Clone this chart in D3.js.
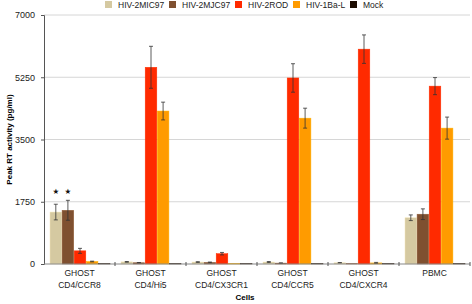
<!DOCTYPE html>
<html>
<head>
<meta charset="utf-8">
<script src="https://cdn.jsdelivr.net/npm/d3@7"></script>
<style>
  body { margin: 0; background: #fff; }
  text { font-family: "Liberation Sans", Arial, sans-serif; }
</style>
</head>
<body>
<div id="chart"></div>
<script>
const cells = ["GHOST\nCD4/CCR8", "GHOST\nCD4/Hi5", "GHOST\nCD4/CX3CR1", "GHOST\nCD4/CCR5", "GHOST\nCD4/CXCR4", "PBMC"];
const viruses = ["HIV-2MIC97", "HIV-2MJC97", "HIV-2ROD", "HIV-1Ba-L", "Mock"];
const colors = ["#d5c9a1", "#7f5030", "#ff2a00", "#ff9b00", "#1c0c00"];
const yTicks = [0, 1750, 3500, 5250, 7000];

// values per cell, in virus order
const means = [
  [1460, 1510, 370, 70, 10],
  [60, 35, 5530, 4300, 10],
  [55, 45, 290, 15, 10],
  [55, 25, 5230, 4100, 10],
  [35, 10, 6040, 30, 10],
  [1300, 1400, 5000, 3820, 10]
];
const errors = [
  [220, 280, 70, 10, 0],
  [10, 5, 590, 250, 0],
  [10, 10, 35, 0, 0],
  [15, 5, 400, 280, 0],
  [5, 0, 400, 15, 0],
  [80, 150, 240, 310, 0]
];
const starred = [[0, 0], [0, 1]];

const width = 472, height = 304;
const margin = {top: 15, right: 2, bottom: 40, left: 44};

const svg = d3.select("#chart").append("svg")
  .attr("width", width)
  .attr("height", height);

const x0 = d3.scaleBand()
  .domain(d3.range(cells.length))
  .range([margin.left, width - margin.right]);
const x1 = d3.scaleBand()
  .domain(d3.range(viruses.length))
  .range([6, x0.bandwidth() - 5])
  .paddingInner(0.04);
const y = d3.scaleLinear()
  .domain([0, 7000])
  .range([height - margin.bottom, margin.top]);

// gridlines
svg.append("g")
  .selectAll("line")
  .data(yTicks.slice(1))
  .join("line")
  .attr("x1", margin.left)
  .attr("x2", width - margin.right)
  .attr("y1", d => y(d))
  .attr("y2", d => y(d))
  .attr("stroke", "#d6d6d6")
  .attr("stroke-width", 1);

// y axis
const yAxis = svg.append("g")
  .attr("transform", `translate(${margin.left},0)`)
  .call(d3.axisLeft(y).tickValues(yTicks).tickSize(3).tickFormat(d3.format("d")));
yAxis.select(".domain").attr("stroke", "#555");
yAxis.selectAll(".tick line").attr("stroke", "#555");
yAxis.selectAll(".tick text")
  .attr("x", -9)
  .style("font-size", "9px")
  .style("font-family", "Liberation Sans, Arial, sans-serif")
  .attr("fill", "#222");

// bars
const group = svg.append("g")
  .selectAll("g")
  .data(means)
  .join("g")
  .attr("transform", (d, i) => `translate(${x0(i)},0)`);

group.selectAll("rect")
  .data((d, i) => d.map((v, j) => ({v, j, e: errors[i][j]})))
  .join("rect")
  .attr("x", d => x1(d.j))
  .attr("width", x1.bandwidth())
  .attr("y", d => y(d.v))
  .attr("height", d => y(0) - y(d.v))
  .attr("fill", d => colors[d.j])
  .attr("stroke", d => d3.color(colors[d.j]).brighter(0.4))
  .attr("stroke-width", 0.5);

// error bars
const eb = group.selectAll("g.err")
  .data((d, i) => d.map((v, j) => ({v, j, e: errors[i][j]})).filter(d => d.e > 0))
  .join("g")
  .attr("class", "err")
  .attr("stroke", "#333")
  .attr("stroke-width", 0.8);
eb.append("line")
  .attr("x1", d => x1(d.j) + x1.bandwidth() / 2)
  .attr("x2", d => x1(d.j) + x1.bandwidth() / 2)
  .attr("y1", d => y(d.v - d.e))
  .attr("y2", d => y(d.v + d.e));
eb.append("line")
  .attr("x1", d => x1(d.j) + x1.bandwidth() / 2 - 2)
  .attr("x2", d => x1(d.j) + x1.bandwidth() / 2 + 2)
  .attr("y1", d => y(d.v + d.e))
  .attr("y2", d => y(d.v + d.e));
eb.append("line")
  .attr("x1", d => x1(d.j) + x1.bandwidth() / 2 - 2)
  .attr("x2", d => x1(d.j) + x1.bandwidth() / 2 + 2)
  .attr("y1", d => y(d.v - d.e))
  .attr("y2", d => y(d.v - d.e));

// stars, all at one height above the tallest error bar of the group
const starTop = i => d3.max(means[i], (v, j) => v + errors[i][j]);
svg.append("g")
  .selectAll("text")
  .data(starred)
  .join("text")
  .attr("x", ([i, j]) => x0(i) + x1(j) + x1.bandwidth() / 2)
  .attr("y", ([i]) => y(starTop(i)) - 6)
  .attr("text-anchor", "middle")
  .style("font-family", "DejaVu Sans, sans-serif")
  .style("font-size", "7.5px")
  .attr("fill", "#111")
  .text("★");

// x axis
const base = y(0);
svg.append("line")
  .attr("x1", margin.left)
  .attr("x2", width - margin.right)
  .attr("y1", base)
  .attr("y2", base)
  .attr("stroke", "#888")
  .attr("stroke-width", 1.2);
svg.append("g")
  .selectAll("line")
  .data(d3.range(1, cells.length + 1))
  .join("line")
  .attr("x1", i => x0(i - 1) + x0.bandwidth())
  .attr("x2", i => x0(i - 1) + x0.bandwidth())
  .attr("y1", base - 2)
  .attr("y2", base + 2)
  .attr("stroke", "#555");

svg.append("g")
  .selectAll("text")
  .data(cells)
  .join("text")
  .attr("text-anchor", "middle")
  .attr("x", (d, i) => x0(i) + x0.bandwidth() / 2)
  .attr("y", base + 12)
  .style("font-size", "8.5px")
  .attr("fill", "#222")
  .selectAll("tspan")
  .data(d => d.split("\n"))
  .join("tspan")
  .attr("x", function() { return this.parentNode.getAttribute("x"); })
  .attr("dy", (d, i) => i === 0 ? 0 : 12)
  .text(d => d);

// axis titles
svg.append("text")
  .attr("x", 245)
  .attr("y", 300)
  .attr("text-anchor", "middle")
  .style("font-size", "8px")
  .style("font-weight", "bold")
  .text("Cells");
svg.append("text")
  .attr("transform", `translate(12,${y(3500)}) rotate(-90)`)
  .attr("text-anchor", "middle")
  .style("font-size", "8px")
  .style("font-weight", "bold")
  .text("Peak RT activity (pg/ml)");

// legend
const legendX = [105, 169, 235, 293, 350];
const legend = svg.append("g")
  .selectAll("g")
  .data(viruses)
  .join("g")
  .attr("transform", (d, i) => `translate(${legendX[i]},1)`);
legend.append("rect")
  .attr("width", 7)
  .attr("height", 7)
  .attr("fill", (d, i) => colors[i]);
legend.append("text")
  .attr("x", 13)
  .attr("y", 7)
  .style("font-size", "8.5px")
  .attr("fill", "#222")
  .text(d => d);
</script>
</body>
</html>
